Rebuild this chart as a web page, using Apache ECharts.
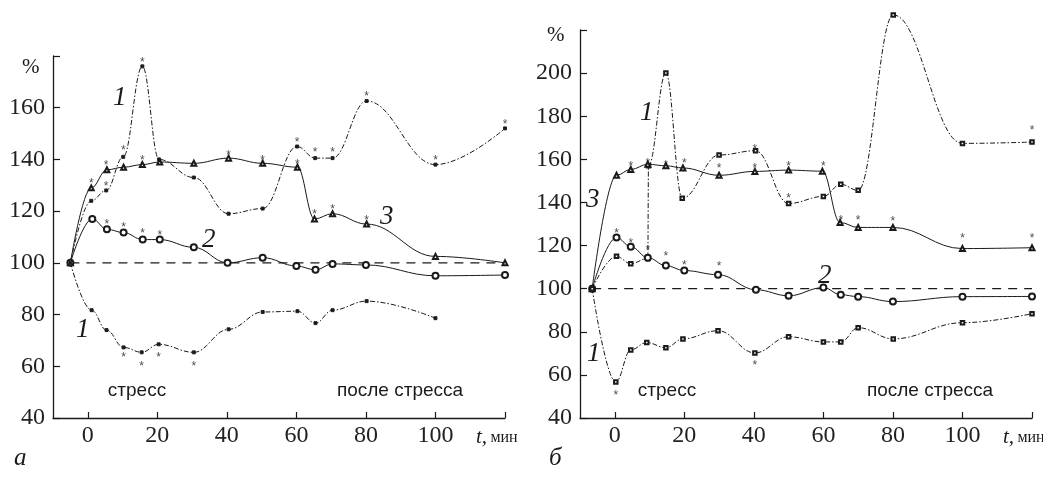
<!DOCTYPE html>
<html><head><meta charset="utf-8">
<script src="https://cdn.jsdelivr.net/npm/echarts@6/dist/echarts.min.js"></script>
<style>html,body{margin:0;padding:0;background:#fff}#c{width:1043px;height:485px}</style>
</head><body><div id="c"></div>
<script>
// ---- tick labels ----
const xTicks = [0, 20, 40, 60, 80, 100, 120];
const xLabels = [0, 20, 40, 60, 80, 100];
const yTicksA = [40, 60, 80, 100, 120, 140, 160, 180];
const yLabelsA = [40, 60, 80, 100, 120, 140, 160];
const yTicksB = [40, 60, 80, 100, 120, 140, 160, 180, 200, 220];
const yLabelsB = [40, 60, 80, 100, 120, 140, 160, 180, 200];

// ---- panel а: [t, %] ----
const a1up = [[-5,100],[1,124],[5.3,128],[10.2,141],[15.7,176],[20.5,140],[30.5,133],[40.5,119],[50.3,121],[60.2,145],[65.4,140.5],[70.4,140.5],[80.2,162.6],[100,138],[120,152]];
const a3 = [[-5,100],[1,129],[5.5,136],[10.3,137],[15.7,138],[20.7,139],[30.5,138.5],[40.5,140.5],[50.3,138.5],[60.3,137],[65.2,117],[70.4,119],[80.2,115],[100,102.5],[120,100]];
const a2 = [[-5,100],[1.3,117],[5.5,113],[10.3,111.7],[15.8,109],[20.7,109],[30.5,106],[40.2,100],[50.3,102],[60,98.8],[65.5,97.3],[70.4,99.6],[80,99.2],[100,95],[120,95.3]];
const a1low = [[-5,100],[1.1,81.7],[5.4,74],[10.3,67.3],[15.5,65.4],[20.4,68.5],[30.5,65.4],[40.5,74.3],[50.3,81],[60.3,81.3],[65.5,76.7],[70.4,81.7],[80.2,85.2],[100,78.6]];
const aBase = [[-5,100],[120,100]];
const aStars = [[1,132],[5.3,139],[5.3,131],[10.2,145],[15.7,141],[15.7,179],[40.5,143],[5.5,116.5],[10.3,115],[15.8,113],[20.7,112],[50.3,141],[60.2,148],[60.3,139.5],[65.4,144],[70.4,144],[80.2,166],[100,141],[120,155],[65.2,120],[70.4,122],[80.2,118],[10.3,65],[15.5,61.5],[20.4,65],[30.5,61.5]];

// ---- panel б: [t, %] ----
const b1up = [[-6.5,100],[0.5,115],[4.6,111.6],[9.5,114],[9.7,157],[14.7,200],[19.4,142],[30,162],[40.5,164],[50,139.5],[60,142.8],[65,148.4],[70,145.6],[80.1,227],[100,167.4],[120,168]];
const b3 = [[-6.5,100],[0.5,152.6],[4.6,155.3],[9.5,157.7],[14.7,157],[19.6,156],[30,152.6],[40.3,154.4],[50,155],[59.7,154.5],[64.8,130.7],[70,128.4],[80,128.4],[100,118.6],[120,119]];
const b2 = [[-6.5,100],[0.5,123.7],[4.6,119.5],[9.5,114.4],[14.7,110.7],[20,108.4],[29.7,106.5],[40.6,99.5],[50,96.7],[60,100.5],[65,97.2],[70,96.3],[80,94],[100,96.3],[120,96.4]];
const b1low = [[-6.5,100],[0.3,56.7],[4.6,71.6],[9.2,75],[14.7,72.6],[19.6,76.7],[29.7,80.5],[40.3,70.2],[50,77.7],[60,75.3],[65,75.3],[70,81.9],[80.1,76.7],[100,84.2],[120,88.4]];
const bBase = [[-6.5,100],[120,100]];
const bStars = [[0.5,127.4],[4.6,122.8],[9.5,119.5],[14.7,116.7],[20,112.6],[30,112],[4.6,158.6],[9.5,160],[14.7,159],[20,160],[30,157.7],[40.3,166.5],[40.3,157.7],[50,158.6],[50,143.5],[60,158.6],[65,133.5],[70,133.5],[80,133],[100,125],[120,125],[120,175],[40.3,66],[0.3,52]];

const INK = '#1a1a1a';
const SERIF = '"Liberation Serif", "DejaVu Serif", serif';
const SANS = '"Liberation Sans", Arial, sans-serif';

function xAxisCfg(gi) {
  return {
    type: 'value', gridIndex: gi, min: -10, max: 120, interval: 10,
    axisLine: { show: true, onZero: false, lineStyle: { color: INK, width: 1.3 } },
    axisTick: { show: true, inside: true, length: 6, customValues: xTicks, lineStyle: { color: INK, width: 1.2 } },
    axisLabel: { customValues: xLabels, color: '#222', fontFamily: SERIF, fontSize: 24, margin: 6 },
    splitLine: { show: false }
  };
}
function yAxisCfg(gi, max, ticks, labels) {
  return {
    type: 'value', gridIndex: gi, min: 40, max: max, interval: 20,
    axisLine: { show: true, onZero: false, lineStyle: { color: INK, width: 1.3 } },
    axisTick: { show: true, inside: true, length: 7, customValues: ticks, lineStyle: { color: INK, width: 1.2 } },
    axisLabel: { customValues: labels, color: '#222', fontFamily: SERIF, fontSize: 24, margin: 8 },
    splitLine: { show: false }
  };
}
function curve(data, gi, symbol, size, type) {
  return {
    type: 'line', xAxisIndex: gi, yAxisIndex: gi, data: data,
    smooth: 0.4, smoothMonotone: 'x', clip: false,
    symbol: symbol, symbolSize: size, showAllSymbol: true,
    itemStyle: { color: INK, borderColor: INK, borderWidth: 0.9 },
    lineStyle: { color: INK, width: 1, type: type },
    emphasis: { disabled: true }, silent: true, animation: false, z: 3
  };
}
function base(data, gi) {
  return {
    type: 'line', xAxisIndex: gi, yAxisIndex: gi, data: data, symbol: 'none',
    lineStyle: { color: INK, width: 1.1, type: [9, 7] }, silent: true, animation: false, z: 2
  };
}
function stars(data, gi) {
  return {
    type: 'scatter', xAxisIndex: gi, yAxisIndex: gi, data: data, symbolSize: 0.1,
    itemStyle: { color: 'transparent' },
    label: { show: true, position: 'inside', formatter: '*', color: INK, fontFamily: SANS, fontSize: 12, offset: [0, 4] },
    silent: true, animation: false, z: 4
  };
}
const DASHDOT = [5, 2, 1.5, 2];

function txt(text, x, y, font, align) {
  return { type: 'text', x: x, y: y, silent: true,
    style: { text: text, font: font, fill: INK, textAlign: align || 'left', textVerticalAlign: 'top' } };
}
const numFont = 'italic 27px ' + SERIF;
const sansFont = '19px ' + SANS;

const option = {
  animation: false,
  backgroundColor: '#fff',
  grid: [
    { left: 53, right: 538, top: 56, bottom: 67 },
    { left: 580, right: 11, top: 30, bottom: 67 }
  ],
  xAxis: [xAxisCfg(0), xAxisCfg(1)],
  yAxis: [yAxisCfg(0, 180, yTicksA, yLabelsA), yAxisCfg(1, 220, yTicksB, yLabelsB)],
  series: [
    base(aBase, 0),
    curve(a1up, 0, 'rect', 3, DASHDOT),
    curve(a3, 0, 'emptyTriangle', 5, 'solid'),
    curve(a2, 0, 'emptyCircle', 6, 'solid'),
    curve(a1low, 0, 'rect', 3, DASHDOT),
    stars(aStars, 0),
    base(bBase, 1),
    curve(b1up, 1, 'emptyRect', 3.5, DASHDOT),
    curve(b3, 1, 'emptyTriangle', 5, 'solid'),
    curve(b2, 1, 'emptyCircle', 6, 'solid'),
    curve(b1low, 1, 'emptyRect', 3.5, DASHDOT),
    stars(bStars, 1)
  ],
  graphic: [
    txt('%', 22, 57, '21px ' + SERIF),
    txt('1', 113, 84, numFont),
    txt('3', 380, 203, numFont),
    txt('2', 202, 226, numFont),
    txt('1', 76, 316, numFont),
    txt('стресс', 137, 381, sansFont, 'center'),
    txt('после стресса', 400, 381, sansFont, 'center'),
    { type: 'text', x: 476, y: 427, silent: true, style: { rich: { i: { font: 'italic 21px ' + SERIF, fill: INK }, n: { font: '16px ' + SERIF, fill: INK } }, text: '{i|t,} {n|мин}', textVerticalAlign: 'top' } },
    txt('а', 14, 446, 'italic 25px ' + SERIF),

    txt('%', 547, 25, '21px ' + SERIF),
    txt('1', 640, 99, numFont),
    txt('3', 586, 186, numFont),
    txt('2', 818, 262, numFont),
    txt('1', 587, 340, numFont),
    txt('стресс', 667, 381, sansFont, 'center'),
    txt('после стресса', 930, 381, sansFont, 'center'),
    { type: 'text', x: 1003, y: 427, silent: true, style: { rich: { i: { font: 'italic 21px ' + SERIF, fill: INK }, n: { font: '16px ' + SERIF, fill: INK } }, text: '{i|t,} {n|мин}', textVerticalAlign: 'top' } },
    txt('б', 549, 446, 'italic 25px ' + SERIF)
  ]
};
const chart = echarts.init(document.getElementById('c'), null, { renderer: 'canvas' });
chart.setOption(option);
</script>
</body></html>
